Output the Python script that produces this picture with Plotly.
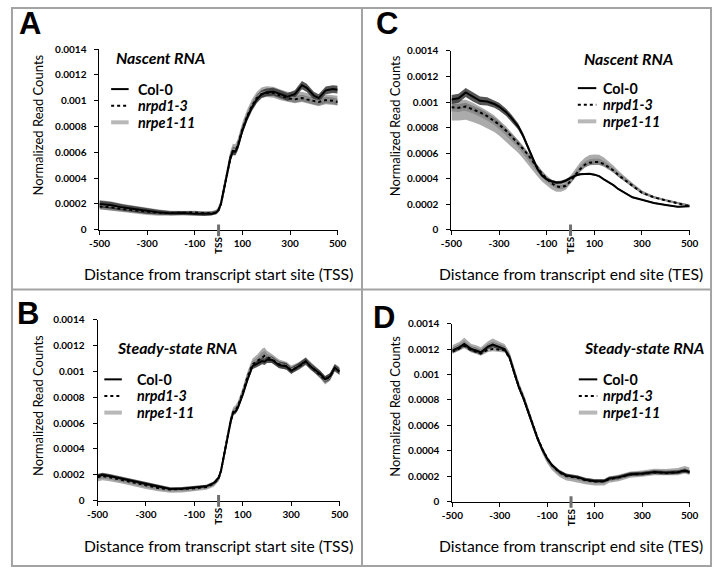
import plotly.graph_objects as go

W, H = 721, 573

# ---------------- DATA ----------------
# Panel A: Nascent RNA around TSS
A_x = [-500, -450, -400, -350, -300, -250, -200, -150, -100, -60, -30, -10, 0, 10, 20, 30, 40, 50, 60, 70,
       80, 90, 100, 120, 140, 160, 180, 200, 230, 260, 290, 320, 350, 370, 400, 420, 450, 480, 500]
A_col0 = [0.000200, 0.000190, 0.000172, 0.000158, 0.000145, 0.000135, 0.000128, 0.000130, 0.000125, 0.000122,
          0.000125, 0.000135, 0.000155, 0.000200, 0.000290, 0.000390, 0.000480, 0.000560, 0.000610, 0.000605,
          0.000640, 0.000700, 0.000770, 0.000870, 0.000950, 0.001010, 0.001050, 0.001065, 0.001070, 0.001050,
          0.001030, 0.001050, 0.001120, 0.001100, 0.001040, 0.001020, 0.001080, 0.001090, 0.001085]
A_nrpd = [0.000180, 0.000175, 0.000160, 0.000150, 0.000140, 0.000132, 0.000130, 0.000135, 0.000135, 0.000128,
          0.000128, 0.000135, 0.000150, 0.000200, 0.000290, 0.000390, 0.000480, 0.000560, 0.000610, 0.000610,
          0.000650, 0.000710, 0.000780, 0.000880, 0.000960, 0.001020, 0.001050, 0.001060, 0.001060, 0.001040,
          0.001020, 0.001010, 0.001020, 0.001010, 0.000995, 0.000990, 0.001005, 0.001000, 0.000990]
A_nrpe = [0.000195, 0.000185, 0.000168, 0.000155, 0.000142, 0.000133, 0.000128, 0.000130, 0.000128, 0.000125,
          0.000128, 0.000140, 0.000160, 0.000210, 0.000300, 0.000400, 0.000490, 0.000575, 0.000625, 0.000620,
          0.000660, 0.000720, 0.000790, 0.000890, 0.000970, 0.001025, 0.001060, 0.001070, 0.001065, 0.001045,
          0.001030, 0.001020, 0.001030, 0.001020, 0.001005, 0.000995, 0.001010, 0.001005, 0.001000]
A_col0_err = [0.000025, 0.000025, 0.000024, 0.000022, 0.000020, 0.000018, 0.000016, 0.000015, 0.000014, 0.000014,
              0.000014, 0.000015, 0.000016, 0.000020, 0.000025, 0.000028, 0.000030, 0.000030, 0.000030, 0.000030,
              0.000030, 0.000030, 0.000030, 0.000030, 0.000030, 0.000030, 0.000030, 0.000030, 0.000030, 0.000030,
              0.000030, 0.000030, 0.000032, 0.000032, 0.000030, 0.000030, 0.000030, 0.000030, 0.000030]
A_nrpd_err = [0.000020, 0.000020, 0.000019, 0.000018, 0.000017, 0.000016, 0.000015, 0.000014, 0.000013, 0.000013,
              0.000013, 0.000014, 0.000015, 0.000018, 0.000022, 0.000025, 0.000025, 0.000025, 0.000025, 0.000025,
              0.000025, 0.000025, 0.000025, 0.000025, 0.000025, 0.000025, 0.000025, 0.000025, 0.000025, 0.000025,
              0.000025, 0.000025, 0.000025, 0.000025, 0.000025, 0.000025, 0.000025, 0.000025, 0.000025]
A_nrpe_err = [0.000035, 0.000035, 0.000032, 0.000030, 0.000027, 0.000024, 0.000020, 0.000018, 0.000016, 0.000015,
              0.000015, 0.000016, 0.000018, 0.000025, 0.000030, 0.000035, 0.000038, 0.000040, 0.000042, 0.000042,
              0.000042, 0.000042, 0.000042, 0.000042, 0.000042, 0.000042, 0.000042, 0.000042, 0.000042, 0.000042,
              0.000040, 0.000040, 0.000040, 0.000040, 0.000038, 0.000038, 0.000038, 0.000038, 0.000038]

# Panel C: Nascent RNA around TES
C_x = [-500, -470, -440, -410, -380, -350, -320, -300, -270, -250, -220, -200, -180, -160, -140, -120, -100, -80,
       -60, -40, -20, 0, 20, 40, 60, 80, 100, 120, 140, 160, 180, 200, 230, 260, 300, 350, 400, 450, 500]
C_col0 = [0.001020, 0.001030, 0.001075, 0.001040, 0.001010, 0.001005, 0.000985, 0.000965, 0.000920, 0.000880,
          0.000810, 0.000740, 0.000650, 0.000560, 0.000480, 0.000425, 0.000395, 0.000380, 0.000370, 0.000372,
          0.000385, 0.000405, 0.000425, 0.000435, 0.000438, 0.000438, 0.000432, 0.000420, 0.000395, 0.000375,
          0.000350, 0.000320, 0.000285, 0.000255, 0.000235, 0.000210, 0.000195, 0.000180, 0.000185]
C_nrpd = [0.000960, 0.000955, 0.000965, 0.000945, 0.000920, 0.000890, 0.000855, 0.000825, 0.000775, 0.000735,
          0.000680, 0.000635, 0.000590, 0.000540, 0.000490, 0.000440, 0.000400, 0.000365, 0.000340, 0.000335,
          0.000345, 0.000380, 0.000430, 0.000475, 0.000510, 0.000525, 0.000530, 0.000530, 0.000515, 0.000490,
          0.000465, 0.000430, 0.000385, 0.000345, 0.000290, 0.000255, 0.000230, 0.000210, 0.000185]
C_nrpe = [0.000935, 0.000935, 0.000940, 0.000920, 0.000895, 0.000865, 0.000830, 0.000800, 0.000750, 0.000710,
          0.000655, 0.000610, 0.000565, 0.000515, 0.000465, 0.000420, 0.000385, 0.000355, 0.000335, 0.000335,
          0.000350, 0.000390, 0.000440, 0.000490, 0.000525, 0.000545, 0.000550, 0.000548, 0.000530, 0.000505,
          0.000475, 0.000440, 0.000395, 0.000350, 0.000295, 0.000255, 0.000230, 0.000210, 0.000190]
C_col0_err = [0.000035, 0.000035, 0.000035, 0.000035, 0.000033, 0.000032, 0.000030, 0.000030, 0.000028, 0.000026,
              0.000024, 0.000022, 0.000020, 0.000018, 0.000016, 0.000014, 0.000013, 0.000012, 0.000012, 0.000012,
              0.000012, 0.000012, 0.000010, 0.000008, 0.000006, 0.000006, 0.000006, 0.000006, 0.000006, 0.000006,
              0.000006, 0.000006, 0.000005, 0.000005, 0.000005, 0.000005, 0.000005, 0.000005, 0.000005]
C_nrpd_err = [0.000030, 0.000030, 0.000030, 0.000028, 0.000027, 0.000026, 0.000025, 0.000024, 0.000023, 0.000022,
              0.000021, 0.000020, 0.000019, 0.000018, 0.000017, 0.000016, 0.000015, 0.000015, 0.000015, 0.000015,
              0.000015, 0.000015, 0.000016, 0.000018, 0.000020, 0.000020, 0.000020, 0.000020, 0.000018, 0.000016,
              0.000015, 0.000014, 0.000013, 0.000012, 0.000010, 0.000008, 0.000007, 0.000006, 0.000006]
C_nrpe_err = [0.000080, 0.000080, 0.000078, 0.000075, 0.000072, 0.000068, 0.000065, 0.000062, 0.000058, 0.000055,
              0.000052, 0.000050, 0.000048, 0.000046, 0.000044, 0.000042, 0.000040, 0.000038, 0.000036, 0.000036,
              0.000036, 0.000036, 0.000036, 0.000038, 0.000040, 0.000040, 0.000040, 0.000040, 0.000036, 0.000032,
              0.000028, 0.000025, 0.000020, 0.000016, 0.000012, 0.000010, 0.000008, 0.000007, 0.000006]

# Panel B: Steady-state RNA around TSS
B_x = [-500, -480, -450, -400, -350, -300, -250, -200, -150, -100, -50, -20, 0, 10, 20, 30, 40, 50, 60, 70, 80,
       90, 100, 120, 140, 160, 180, 190, 200, 220, 250, 280, 300, 330, 360, 380, 400, 420, 440, 460, 480, 500]
B_col0 = [0.000190, 0.000200, 0.000190, 0.000170, 0.000150, 0.000125, 0.000105, 0.000090, 0.000092, 0.000100,
          0.000110, 0.000135, 0.000175, 0.000230, 0.000330, 0.000430, 0.000530, 0.000610, 0.000680, 0.000690,
          0.000720, 0.000770, 0.000820, 0.000940, 0.001040, 0.001060, 0.001080, 0.001075, 0.001090, 0.001090,
          0.001050, 0.001040, 0.001005, 0.001040, 0.001080, 0.001040, 0.001010, 0.000980, 0.000940, 0.000960,
          0.001030, 0.001000]
B_nrpd = [0.000180, 0.000190, 0.000180, 0.000160, 0.000140, 0.000115, 0.000098, 0.000085, 0.000088, 0.000095,
          0.000105, 0.000130, 0.000170, 0.000230, 0.000330, 0.000430, 0.000530, 0.000615, 0.000685, 0.000700,
          0.000730, 0.000780, 0.000835, 0.000960, 0.001055, 0.001080, 0.001110, 0.001120, 0.001110, 0.001095,
          0.001055, 0.001040, 0.001010, 0.001035, 0.001075, 0.001040, 0.001010, 0.000975, 0.000935, 0.000960,
          0.001025, 0.001000]
B_nrpe = [0.000170, 0.000180, 0.000172, 0.000152, 0.000132, 0.000108, 0.000090, 0.000078, 0.000080, 0.000088,
          0.000100, 0.000125, 0.000168, 0.000230, 0.000335, 0.000440, 0.000540, 0.000625, 0.000695, 0.000710,
          0.000740, 0.000790, 0.000845, 0.000970, 0.001065, 0.001095, 0.001140, 0.001150, 0.001125, 0.001100,
          0.001060, 0.001045, 0.001015, 0.001040, 0.001080, 0.001045, 0.001010, 0.000975, 0.000930, 0.000955,
          0.001030, 0.001005]
B_col0_err = [0.000015, 0.000015, 0.000015, 0.000014, 0.000014, 0.000013, 0.000013, 0.000012, 0.000012, 0.000012,
              0.000012, 0.000013, 0.000015, 0.000018, 0.000020, 0.000020, 0.000020, 0.000020, 0.000020, 0.000020,
              0.000020, 0.000020, 0.000020, 0.000022, 0.000024, 0.000025, 0.000025, 0.000025, 0.000025, 0.000025,
              0.000025, 0.000025, 0.000025, 0.000025, 0.000025, 0.000025, 0.000025, 0.000025, 0.000025, 0.000025,
              0.000025, 0.000025]
B_nrpd_err = [0.000015, 0.000015, 0.000015, 0.000014, 0.000014, 0.000013, 0.000013, 0.000012, 0.000012, 0.000012,
              0.000012, 0.000013, 0.000015, 0.000018, 0.000020, 0.000020, 0.000020, 0.000020, 0.000020, 0.000020,
              0.000020, 0.000020, 0.000020, 0.000022, 0.000024, 0.000025, 0.000025, 0.000025, 0.000025, 0.000025,
              0.000025, 0.000025, 0.000025, 0.000025, 0.000025, 0.000025, 0.000025, 0.000025, 0.000025, 0.000025,
              0.000025, 0.000025]
B_nrpe_err = [0.000022, 0.000022, 0.000022, 0.000021, 0.000020, 0.000019, 0.000018, 0.000017, 0.000017, 0.000017,
              0.000017, 0.000018, 0.000020, 0.000024, 0.000026, 0.000028, 0.000028, 0.000028, 0.000028, 0.000028,
              0.000028, 0.000028, 0.000030, 0.000032, 0.000034, 0.000035, 0.000035, 0.000035, 0.000035, 0.000035,
              0.000032, 0.000030, 0.000030, 0.000030, 0.000030, 0.000030, 0.000030, 0.000030, 0.000032, 0.000030,
              0.000030, 0.000030]

# Panel D: Steady-state RNA around TES
D_x = [-500, -470, -450, -420, -400, -380, -350, -330, -300, -280, -260, -240, -220, -200, -180, -160, -140, -120,
       -100, -80, -50, -20, 0, 30, 60, 100, 140, 160, 200, 250, 300, 350, 400, 450, 480, 500]
D_col0 = [0.001190, 0.001215, 0.001240, 0.001200, 0.001190, 0.001175, 0.001220, 0.001235, 0.001215, 0.001200,
          0.001140, 0.001010, 0.000900, 0.000810, 0.000700, 0.000590, 0.000490, 0.000405, 0.000335, 0.000285,
          0.000235, 0.000205, 0.000200, 0.000190, 0.000172, 0.000160, 0.000160, 0.000180, 0.000190, 0.000215,
          0.000220, 0.000232, 0.000228, 0.000232, 0.000245, 0.000232]
D_nrpd = [0.001180, 0.001205, 0.001225, 0.001190, 0.001180, 0.001165, 0.001195, 0.001200, 0.001195, 0.001190,
          0.001135, 0.001010, 0.000905, 0.000815, 0.000705, 0.000595, 0.000495, 0.000410, 0.000340, 0.000285,
          0.000230, 0.000200, 0.000195, 0.000185, 0.000168, 0.000158, 0.000158, 0.000175, 0.000188, 0.000212,
          0.000218, 0.000230, 0.000225, 0.000230, 0.000240, 0.000230]
D_nrpe = [0.001200, 0.001225, 0.001255, 0.001210, 0.001200, 0.001185, 0.001230, 0.001250, 0.001225, 0.001210,
          0.001150, 0.001020, 0.000910, 0.000820, 0.000705, 0.000595, 0.000490, 0.000400, 0.000325, 0.000272,
          0.000220, 0.000190, 0.000185, 0.000175, 0.000160, 0.000152, 0.000152, 0.000172, 0.000185, 0.000212,
          0.000220, 0.000232, 0.000230, 0.000235, 0.000250, 0.000238]
D_col0_err = [0.000020, 0.000020, 0.000020, 0.000020, 0.000020, 0.000020, 0.000020, 0.000020, 0.000020, 0.000020,
              0.000020, 0.000020, 0.000020, 0.000020, 0.000020, 0.000020, 0.000018, 0.000016, 0.000015, 0.000015,
              0.000015, 0.000015, 0.000015, 0.000015, 0.000015, 0.000015, 0.000015, 0.000015, 0.000015, 0.000015,
              0.000015, 0.000015, 0.000015, 0.000015, 0.000015, 0.000015]
D_nrpd_err = [0.000018, 0.000018, 0.000018, 0.000018, 0.000018, 0.000018, 0.000018, 0.000018, 0.000018, 0.000018,
              0.000018, 0.000018, 0.000018, 0.000018, 0.000018, 0.000018, 0.000016, 0.000015, 0.000014, 0.000014,
              0.000014, 0.000014, 0.000014, 0.000014, 0.000014, 0.000014, 0.000014, 0.000014, 0.000014, 0.000014,
              0.000014, 0.000014, 0.000014, 0.000014, 0.000014, 0.000014]
D_nrpe_err = [0.000030, 0.000032, 0.000034, 0.000030, 0.000030, 0.000030, 0.000032, 0.000034, 0.000030, 0.000030,
              0.000030, 0.000030, 0.000030, 0.000030, 0.000028, 0.000028, 0.000026, 0.000025, 0.000025, 0.000025,
              0.000025, 0.000025, 0.000025, 0.000025, 0.000025, 0.000025, 0.000025, 0.000025, 0.000025, 0.000025,
              0.000025, 0.000025, 0.000025, 0.000028, 0.000030, 0.000030]

series_names = ["Col-0", "nrpd1-3", "nrpe1-11"]
legend_labels = ["<b>Col-0</b>", "<b><i>nrpd1-3</i></b>", "<b><i>nrpe1-11</i></b>"]
y_tickvals = [0, 0.0002, 0.0004, 0.0006, 0.0008, 0.001, 0.0012, 0.0014]
y_ticktext = ["0", "0.0002", "0.0004", "0.0006", "0.0008", "0.001", "0.0012", "0.0014"]
x_tickvals = [-500, -300, -100, 100, 300, 500]
x_ticktext = ["-500", "-300", "-100", "100", "300", "500"]

# ---------------- STYLE / LAYOUT ----------------
FONT = "Lato"
line_styles = [dict(color="black", width=2),
               dict(color="black", width=2, dash="dot"),
               dict(color="#8e8e8e", width=2)]
band_colors = ["rgba(55,55,55,0.85)", "rgba(95,95,95,0.55)", "rgba(150,150,150,0.8)"]
legend_colors = ["black", "black", "#b8b8b8"]
legend_widths = [2, 2, 4]
legend_dash = ["solid", "dot", "solid"]

def px(x):
    return x / W

def py(y):
    return 1 - y / H

panels = [
    dict(letter="A", x=A_x, ys=[A_col0, A_nrpd, A_nrpe], errs=[A_col0_err, A_nrpd_err, A_nrpe_err],
         box=(91, 336, 43, 228), letter_pos=(20, 17), title="Nascent RNA", title_pos=(106, 52),
         leg=(103, 121, 130, [84, 101, 118]), mark="TSS",
         xtitle="Distance from transcript start site (TSS)", xtitle_y=273, ytitle=(28, 121)),
    dict(letter="C", x=C_x, ys=[C_col0, C_nrpd, C_nrpe], errs=[C_col0_err, C_nrpd_err, C_nrpe_err],
         box=(453, 698, 45, 228), letter_pos=(387, 17), title="Nascent RNA", title_pos=(587, 53),
         leg=(583, 602, 608, [83, 100, 117]), mark="TES",
         xtitle="Distance from transcript end site (TES)", xtitle_y=273, ytitle=(395, 122)),
    dict(letter="B", x=B_x, ys=[B_col0, B_nrpd, B_nrpe], errs=[B_col0_err, B_nrpd_err, B_nrpe_err],
         box=(89, 338, 320, 505), letter_pos=(17, 314), title="Steady-state RNA", title_pos=(107, 348),
         leg=(96, 114, 129, [381, 398, 415]), mark="TSS",
         xtitle="Distance from transcript start site (TSS)", xtitle_y=552, ytitle=(27, 408)),
    dict(letter="D", x=D_x, ys=[D_col0, D_nrpd, D_nrpe], errs=[D_col0_err, D_nrpd_err, D_nrpe_err],
         box=(454, 698, 324, 506), letter_pos=(384, 318), title="Steady-state RNA", title_pos=(587, 348),
         leg=(584, 603, 608, [381, 398, 415]), mark="TES",
         xtitle="Distance from transcript end site (TES)", xtitle_y=552, ytitle=(395, 409)),
]

fig = go.Figure()
annotations = []
shapes = []
layout_axes = {}

for i, p in enumerate(panels):
    n = i + 1
    xa = "x" if n == 1 else f"x{n}"
    ya = "y" if n == 1 else f"y{n}"
    x0, x1, y0, y1 = p["box"]
    # bands: nrpe, nrpd, col0
    for k in [2, 1, 0]:
        vals, err = p["ys"][k], p["errs"][k]
        upper = [v + e for v, e in zip(vals, err)]
        lower = [v - e for v, e in zip(vals, err)]
        fig.add_trace(go.Scatter(x=p["x"] + p["x"][::-1], y=upper + lower[::-1], fill="toself",
                                 fillcolor=band_colors[k], line=dict(width=0), mode="lines",
                                 hoverinfo="skip", showlegend=False, xaxis=xa, yaxis=ya))
    for k in [2, 1, 0]:
        fig.add_trace(go.Scatter(x=p["x"], y=p["ys"][k], mode="lines", line=line_styles[k],
                                 name=series_names[k], showlegend=False, xaxis=xa, yaxis=ya))
    xkey = "xaxis" if n == 1 else f"xaxis{n}"
    ykey = "yaxis" if n == 1 else f"yaxis{n}"
    layout_axes[xkey] = dict(domain=[px(x0), px(x1)], anchor=ya, range=[-500, 500],
                             tickvals=x_tickvals, ticktext=x_ticktext, ticks="outside", ticklen=4,
                             tickcolor="black", showline=True, linecolor="black", linewidth=1,
                             showgrid=False, zeroline=False,
                             tickfont=dict(family=FONT, size=10, color="black", weight="bold"))
    layout_axes[ykey] = dict(domain=[py(y1), py(y0)], anchor=xa, range=[0, 0.0014],
                             tickvals=y_tickvals, ticktext=y_ticktext, ticks="outside", ticklen=4,
                             tickcolor="black", showline=True, linecolor="black", linewidth=1,
                             showgrid=False, zeroline=False, ticklabelstandoff=6,
                             tickfont=dict(family=FONT, size=10, color="black", weight="bold"))
    # TSS / TES marker
    shapes.append(dict(type="line", xref=xa, yref=f"{ya} domain", x0=0, x1=0, y0=-0.035, y1=0.03,
                       line=dict(color="#707070", width=3)))
    annotations.append(dict(text=f"<b>{p['mark']}</b>", xref=xa, x=0, yref="paper", y=py(y1 + 16),
                            showarrow=False, textangle=-90, xanchor="center", yanchor="middle",
                            font=dict(family=FONT, size=10, color="black")))
    # panel letter
    annotations.append(dict(text=f"<b>{p['letter']}</b>", xref="paper", yref="paper",
                            x=px(p["letter_pos"][0]), y=py(p["letter_pos"][1]), showarrow=False,
                            xanchor="center", yanchor="middle",
                            font=dict(family="Liberation Sans", size=31, color="black")))
    # panel title
    annotations.append(dict(text=f"<b><i>{p['title']}</i></b>", xref="paper", yref="paper",
                            x=px(p["title_pos"][0]), y=py(p["title_pos"][1]), showarrow=False,
                            xanchor="left", yanchor="middle",
                            font=dict(family=FONT, size=15.8, color="black")))
    # axis titles
    annotations.append(dict(text=p["xtitle"], xref="paper", yref="paper", x=px((x0 + x1) / 2),
                            y=py(p["xtitle_y"]), showarrow=False, xanchor="center", yanchor="middle",
                            font=dict(family=FONT, size=15.7, color="black")))
    annotations.append(dict(text="Normalized Read Counts", xref="paper", yref="paper",
                            x=px(p["ytitle"][0]), y=py(p["ytitle"][1]), showarrow=False, textangle=-90,
                            xanchor="center", yanchor="middle",
                            font=dict(family=FONT, size=13, color="black")))
    # legend
    lx0, lx1, ltx, lys = p["leg"]
    for k in range(3):
        shapes.append(dict(type="line", xref="paper", yref="paper", x0=px(lx0), x1=px(lx1),
                           y0=py(lys[k]), y1=py(lys[k]),
                           line=dict(color=legend_colors[k], width=legend_widths[k], dash=legend_dash[k])))
        annotations.append(dict(text=legend_labels[k], xref="paper", yref="paper", x=px(ltx),
                                y=py(lys[k]), showarrow=False, xanchor="left", yanchor="middle",
                                borderpad=0, font=dict(family=FONT, size=14.3, color="black")))

# panel borders
border = dict(color="#a3a3a3", width=2)
shapes.append(dict(type="rect", xref="paper", yref="paper", x0=px(1), x1=px(720), y0=py(1), y1=py(572),
                   line=border))
shapes.append(dict(type="line", xref="paper", yref="paper", x0=px(361), x1=px(361), y0=py(1), y1=py(572),
                   line=border))
shapes.append(dict(type="line", xref="paper", yref="paper", x0=px(1), x1=px(720), y0=py(289), y1=py(289),
                   line=border))

fig.update_layout(width=W, height=H, margin=dict(l=0, r=0, t=0, b=0), plot_bgcolor="white",
                  paper_bgcolor="white", showlegend=False, annotations=annotations, shapes=shapes,
                  **layout_axes)

fig.write_html("out.html", config={"displayModeBar": False},
               post_script="document.body.style.margin='0px';document.body.style.padding='0px';"
                           "document.body.style.overflow='hidden';")
